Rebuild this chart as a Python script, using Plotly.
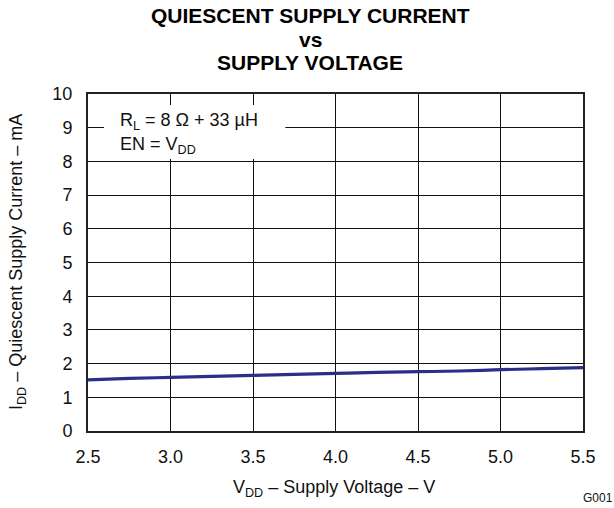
import plotly.graph_objects as go

vdd = [2.5, 2.75, 3.0, 3.25, 3.5, 3.75, 4.0, 4.25, 4.5, 4.75, 5.0, 5.25, 5.5]
idd = [1.52, 1.56, 1.59, 1.62, 1.65, 1.68, 1.71, 1.74, 1.76, 1.78, 1.82, 1.85, 1.88]
x_ticks = [2.5, 3.0, 3.5, 4.0, 4.5, 5.0, 5.5]
x_tick_text = ["2.5", "3.0", "3.5", "4.0", "4.5", "5.0", "5.5"]
y_ticks = list(range(0, 11))
title_lines = ["QUIESCENT SUPPLY CURRENT", "vs", "SUPPLY VOLTAGE"]

FONT = "Liberation Sans, Arial, sans-serif"
L, R, T, B = 88, 31, 94, 77
W, H = 614, 508
PW, PH = W - L - R, H - T - B


def px_x(p):
    return (p - L) / PW


def px_y(p):
    return (H - B - p) / PH


fig = go.Figure()
fig.add_trace(go.Scatter(x=vdd, y=idd, mode="lines",
                         line=dict(color="#2b2f8c", width=3.2, shape="spline"),
                         showlegend=False, hoverinfo="skip"))

fig.update_layout(
    width=W, height=H,
    margin=dict(l=L, r=R, t=T, b=B),
    paper_bgcolor="white", plot_bgcolor="white",
    font=dict(family=FONT, color="black", size=18),
    xaxis=dict(range=[2.5, 5.5], tickvals=x_ticks, ticktext=x_tick_text,
               showgrid=True, gridcolor="#111111", gridwidth=1,
               showline=True, linecolor="#222222", linewidth=2, mirror=True,
               zeroline=False, ticks="outside", ticklen=8, tickcolor="rgba(0,0,0,0)",
               tickfont=dict(size=18, family=FONT, color="#111111")),
    yaxis=dict(range=[0, 10], tickvals=y_ticks,
               showgrid=True, gridcolor="#111111", gridwidth=1,
               showline=True, linecolor="#222222", linewidth=2, mirror=True,
               zeroline=False, ticks="outside", ticklen=10, tickcolor="rgba(0,0,0,0)",
               tickfont=dict(size=18, family=FONT, color="#111111")),
)

# title
for txt, yc in zip(title_lines, [15, 39, 62]):
    fig.add_annotation(xref="paper", yref="paper", x=px_x(310), y=px_y(yc),
                       xanchor="center", yanchor="middle", text=f"<b>{txt}</b>",
                       showarrow=False, font=dict(size=21, family=FONT, color="black"))

# axis titles
fig.add_annotation(xref="paper", yref="paper", x=px_x(334), y=px_y(488),
                   xanchor="center", yanchor="middle",
                   text="V<sub>DD</sub> – Supply Voltage – V",
                   showarrow=False, font=dict(size=18, family=FONT, color="#111111"))
fig.add_annotation(xref="paper", yref="paper", x=px_x(17), y=px_y(262),
                   xanchor="center", yanchor="middle", textangle=-90,
                   text="I<sub>DD</sub> – Quiescent Supply Current – mA",
                   showarrow=False, font=dict(size=18, family=FONT, color="#111111"))

# condition box
fig.add_shape(type="rect", xref="x", yref="y", x0=2.597, x1=3.696, y0=8.07, y1=9.67,
              fillcolor="white", line=dict(width=0), layer="above")
fig.add_annotation(xref="paper", yref="paper", x=px_x(118), y=px_y(121),
                   xanchor="left", yanchor="middle",
                   text="R<sub>L</sub> = 8 Ω + 33 µH",
                   showarrow=False, align="left", font=dict(size=18, family=FONT, color="#111111"))
fig.add_annotation(xref="paper", yref="paper", x=px_x(118), y=px_y(145),
                   xanchor="left", yanchor="middle",
                   text="EN = V<sub>DD</sub>",
                   showarrow=False, align="left", font=dict(size=18, family=FONT, color="#111111"))
fig.add_annotation(xref="paper", yref="paper", x=px_x(598), y=px_y(498),
                   xanchor="center", yanchor="middle",
                   text="G001", showarrow=False, font=dict(size=12, family=FONT, color="#111111"))

fig.write_html("out.html", config={"displayModeBar": False},
               post_script="document.body.style.margin='0';")
